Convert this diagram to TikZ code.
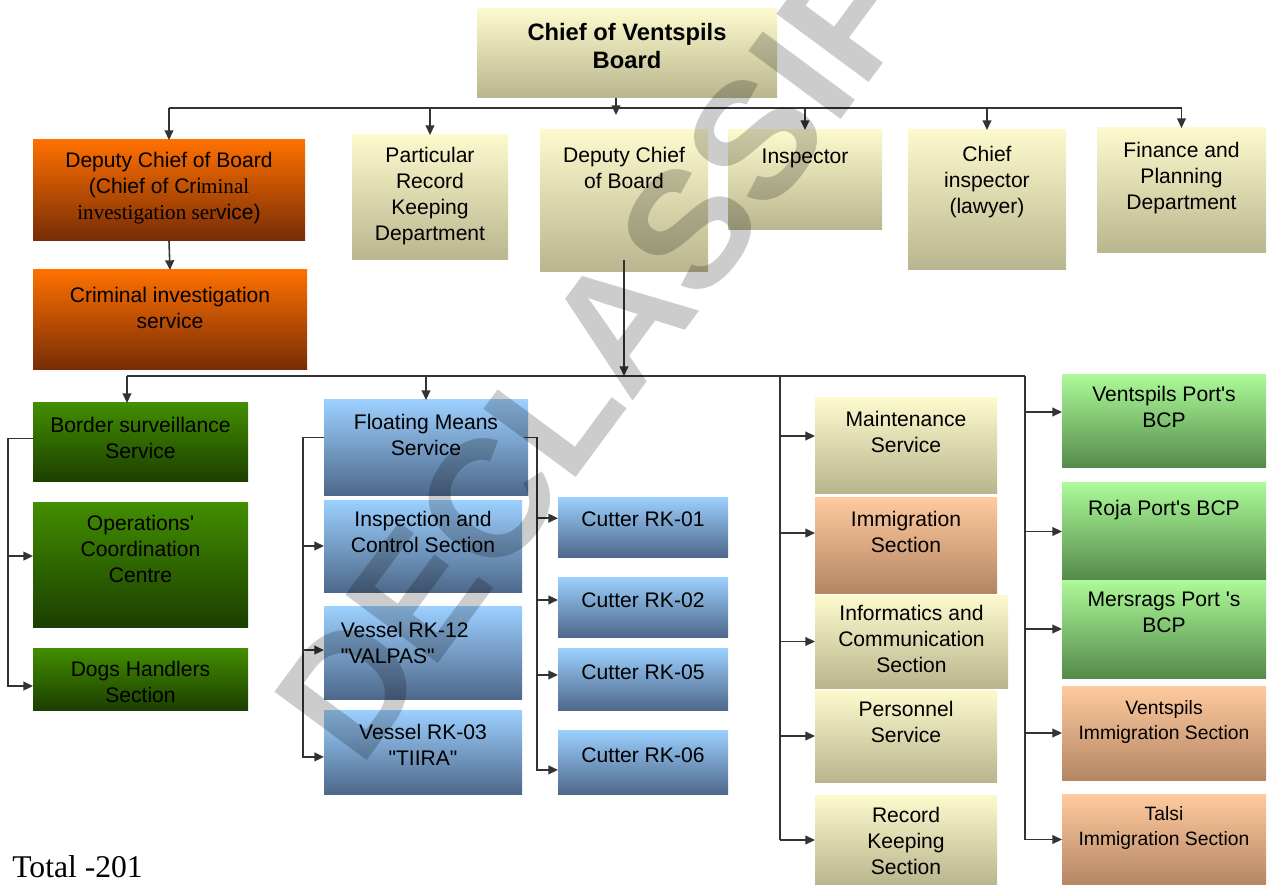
\documentclass[tikz,border=0pt]{standalone}
\usepackage{fontspec}
\setmainfont{Liberation Sans}[Ligatures=TeXOff]
\newfontfamily\serff{Liberation Serif}
\usetikzlibrary{arrows.meta,fit,calc}
\definecolor{khT}{RGB}{252,250,205}
\definecolor{khB}{RGB}{185,181,142}
\definecolor{orT}{RGB}{255,112,0}
\definecolor{orB}{RGB}{118,44,6}
\definecolor{dgT}{RGB}{66,142,0}
\definecolor{dgB}{RGB}{28,62,0}
\definecolor{blT}{RGB}{156,208,255}
\definecolor{blB}{RGB}{78,104,138}
\definecolor{lgT}{RGB}{172,250,152}
\definecolor{lgB}{RGB}{84,138,74}
\definecolor{peT}{RGB}{255,202,158}
\definecolor{peB}{RGB}{180,134,100}
\newcommand\mybox[9]{%
  \node[bx,#6,fit={(#2,#3)(#4,#5)}] (#1) {};
  \node[txt,anchor=north,#9] (#1t) at ({(#2+#4)/2},{#7+3}) {#8};}
\newcommand\harr[4]{% column coordinate, node, shift, anchor
  \coordinate (tmp) at ([yshift=#3]#2.#4);
  \draw[arr] (#1 |- tmp) -- (tmp);}
\begin{document}
\begin{tikzpicture}[x=0.02cm,y=-0.02cm,
  bx/.style={inner sep=0pt,outer sep=0pt,draw=none},
  kh/.style={top color=khT,bottom color=khB},
  orr/.style={top color=orT,bottom color=orB},
  dg/.style={top color=dgT,bottom color=dgB},
  bl/.style={top color=blT,bottom color=blB},
  lg/.style={top color=lgT,bottom color=lgB},
  pe/.style={top color=peT,bottom color=peB},
  txt/.style={font=\fontsize{12}{14.7}\selectfont,align=center,inner sep=0pt,execute at begin node=\strut},
  ln/.style={draw=black!80,line width=0.9pt},
  arr/.style={ln,-{Triangle[length=5.5pt,width=5pt]}},
]
\useasboundingbox (0,0) rectangle (1269,885);

% top
\mybox{chief}{477}{9}{777}{98}{kh}{20}{Chief of Ventspils\\Board}{font=\bfseries\fontsize{13.5}{15.9}\selectfont}
% row 2
\mybox{dep1}{33}{140}{305}{241}{orr}{149}{Deputy Chief of Board\\(Chief of Cri{\serff minal}\\{\serff investigation ser}vice)}{}
\mybox{part}{352}{135}{508}{260}{kh}{144}{Particular\\Record\\Keeping\\Department}{}
\mybox{dep2}{540}{130}{708}{272}{kh}{144}{Deputy Chief\\of Board}{}
\mybox{insp}{728}{130}{882}{230}{kh}{142}{Inspector}{}
\mybox{chinsp}{908}{130}{1066}{270}{kh}{143}{Chief\\inspector\\(lawyer)}{}
\mybox{fin}{1097}{128}{1266}{253}{kh}{139}{Finance and\\Planning\\Department}{}
\mybox{crim}{33}{270}{307}{370}{orr}{284}{Criminal investigation\\service}{}
% left column
\mybox{bsurv}{33}{403}{248}{482}{dg}{414}{Border surveillance\\Service}{}
\mybox{ops}{33}{502}{248}{627}{dg}{512}{Operations'\\Coordination\\Centre}{}
\mybox{dogs}{33}{648}{248}{710}{dg}{658}{Dogs Handlers\\Section}{}
% floating means
\mybox{float}{324}{400}{528}{495}{bl}{411}{Floating Means\\Service}{}
\mybox{inspc}{324}{500}{522}{592}{bl}{508}{Inspection and\\Control Section}{}
\mybox{vtwelve}{324}{606}{522}{699}{bl}{619}{Vessel RK-12\\"VALPAS"}{align=left,anchor=north west,xshift=-47pt}
\mybox{vthree}{324}{710}{522}{794}{bl}{721}{Vessel RK-03\\"TIIRA"}{}
\mybox{cone}{558}{497}{728}{557}{bl}{505}{Cutter RK-01}{}
\mybox{ctwo}{558}{577}{728}{637}{bl}{586}{Cutter RK-02}{}
\mybox{cfive}{558}{648}{728}{710}{bl}{658}{Cutter RK-05}{}
\mybox{csix}{558}{730}{728}{794}{bl}{741}{Cutter RK-06}{}
% middle column
\mybox{maint}{815}{398}{997}{493}{kh}{408}{Maintenance\\Service}{}
\mybox{immig}{815}{497}{997}{593}{pe}{508}{Immigration\\Section}{}
\mybox{infor}{815}{595}{1008}{688}{kh}{602}{Informatics and\\Communication\\Section}{}
\mybox{pers}{815}{690}{997}{782}{kh}{698}{Personnel\\Service}{}
\mybox{rec}{815}{795}{997}{885}{kh}{804}{Record\\Keeping\\Section}{}
% right column
\mybox{vbcp}{1062}{375}{1266}{468}{lg}{383}{Ventspils Port's\\BCP}{}
\mybox{rbcp}{1062}{483}{1266}{580}{lg}{494}{Roja Port's BCP}{}
\mybox{mbcp}{1062}{580}{1266}{678}{lg}{589}{Mersrags Port 's\\BCP}{}
\mybox{vimm}{1062}{686}{1266}{780}{pe}{697}{Ventspils\\Immigration Section}{font=\fontsize{11}{14.2}\selectfont}
\mybox{timm}{1062}{794}{1266}{885}{pe}{803}{Talsi\\Immigration Section}{font=\fontsize{11}{14.2}\selectfont}

% connectors, top level
\coordinate (bar1) at (0,108);
\coordinate (chiefend) at (616,115);
\draw[arr] (chief.south -| chiefend) -- (chiefend);
\draw[ln] (dep1.north |- bar1) -- (fin.north |- bar1);
\foreach \n in {dep1,part,insp,chinsp,fin} \draw[arr] (\n.north |- bar1) -- (\n.north);
\draw[arr] (dep1.south) -- (crim.north);

% second bar
\coordinate (bar2) at (127,376);
\coordinate (mcol) at (780,376);
\coordinate (rcol) at (1025,376);
\draw[ln] (bar2) -- (rcol);
\coordinate (dtop) at ([yshift=6.8pt]dep2.south);
\draw[arr] (dtop) -- (dtop |- bar2);
\draw[arr] (bar2) -- (bar2 |- bsurv.north);
\draw[arr] (float.north |- bar2) -- (float.north);

% left bracket
\coordinate (lb) at (8,0);
\coordinate (ta) at ([yshift=2.3pt]bsurv.west);
\coordinate (tc) at ([yshift=-4pt]dogs.west);
\draw[arr] (ta) -- (lb |- ta) -- (lb |- tc) -- (tc);
\harr{lb}{ops}{4.8pt}{west}

% floating means left bracket
\coordinate (fl) at (303,0);
\coordinate (fa) at ([yshift=5.7pt]float.west);
\coordinate (fc) at ([yshift=-2.8pt]vthree.west);
\draw[arr] (fa) -- (fl |- fa) -- (fl |- fc) -- (fc);
\harr{fl}{inspc}{0pt}{west}
\harr{fl}{vtwelve}{1.4pt}{west}

% floating means right bracket
\coordinate (fr) at (537,0);
\coordinate (ra) at ([yshift=5.7pt,xshift=-2pt]float.east);
\coordinate (rc) at ([yshift=-4.5pt]csix.west);
\draw[arr] (ra) -- (fr |- ra) -- (fr |- rc) -- (rc);
\harr{fr}{cone}{5pt}{west}
\harr{fr}{ctwo}{4pt}{west}
\harr{fr}{cfive}{2.3pt}{west}

% middle column
\draw[ln] (mcol) -- (mcol |- rec.west);
\harr{mcol}{maint}{5.4pt}{west}
\harr{mcol}{immig}{6.8pt}{west}
\harr{mcol}{infor}{0pt}{west}
\harr{mcol}{pers}{0pt}{west}
\harr{mcol}{rec}{0pt}{west}

% right column
\draw[ln] (rcol) -- (rcol |- timm.west);
\harr{rcol}{vbcp}{5.4pt}{west}
\harr{rcol}{rbcp}{0pt}{west}
\harr{rcol}{mbcp}{0pt}{west}
\harr{rcol}{vimm}{0pt}{west}
\harr{rcol}{timm}{0pt}{west}

% total
\node[anchor=base west,inner sep=0pt,font=\serff\fontsize{18}{21}\selectfont] (total) at (12,877) {Total -201};

% watermark
\begin{scope}
\clip (0,0) rectangle (1269,885);
\node[rotate=53.5,anchor=base west,inner sep=0pt,text=black,opacity=0.2,font=\bfseries\fontsize{95}{95}\selectfont] (wm) at (360,770) {DECLASSIFIED};
\end{scope}
\end{tikzpicture}
\end{document}
